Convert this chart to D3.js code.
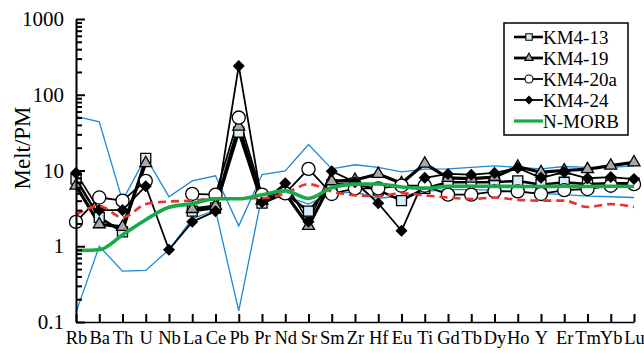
<!DOCTYPE html>
<html><head><meta charset="utf-8">
<script src="https://cdn.jsdelivr.net/npm/d3@7"></script>
<style>body{margin:0;background:#fff}svg{display:block}</style>
</head><body>
<svg id="c" width="644" height="353"></svg>
<script>
const elements = ["Rb","Ba","Th","U","Nb","La","Ce","Pb","Pr","Nd","Sr","Sm","Zr","Hf","Eu","Ti","Gd","Tb","Dy","Ho","Y","Er","Tm","Yb","Lu"];
const km4_13  = [7.7,2.4,1.55,14.5,null,2.9,3.2,32,3.7,5.0,2.9,6.5,6.8,5.5,4.0,5.8,7.0,7.0,7.0,7.3,6.5,7.0,6.6,6.8,6.8];
const km4_19  = [6.3,1.95,1.8,12.5,null,3.1,3.4,38,4.0,5.0,1.85,7.2,7.5,9.0,6.8,12.3,8.0,7.8,8.2,11.2,9.5,10,10.4,11.6,12.8];
const km4_20a = [2.1,4.4,4.0,7.3,null,4.9,4.8,50,4.8,5.0,10.5,4.9,5.8,5.8,6.3,6.3,4.8,4.8,5.3,5.3,4.9,5.5,5.7,6.3,6.6];
const km4_24  = [9.3,3.0,3.0,6.2,0.9,2.1,2.9,240,3.8,6.8,2.1,9.8,7.0,3.7,1.6,8.0,9.0,8.8,9.3,10.8,8.0,9.5,7.9,8.2,7.7];
const nmorb   = [0.88,0.90,1.41,2.24,3.27,3.64,4.23,4.23,4.78,5.39,4.27,5.92,6.6,6.63,6.07,5.85,6.17,6.2,6.17,6.16,6.15,6.19,6.16,6.19,6.15];
const redDash = [2.6,3.4,2.4,3.6,3.9,4.0,4.3,4.3,4.3,5.0,6.6,5.3,4.7,4.6,5.0,4.7,4.4,4.2,4.4,4.1,4.0,4.0,3.3,3.6,3.3];
const blueUpper = [52,44,4.0,15,4.5,7.3,8.5,1.86,8.8,9.9,22,10.5,11.9,11,9.6,10.4,10.5,11,11.5,11,10.5,11.3,11,11,11.5];
const blueLower = [0.134,1.0,0.47,0.48,0.9,2.3,3.0,0.14,4.7,4.6,3.6,5.0,5.2,4.3,4.6,5.3,5.6,5.6,5.5,5.2,5.0,4.8,4.6,4.5,4.4];
const yMajor = [0.1,1,10,100,1000];
const yMajorLabels = ["0.1","1","10","100","1000"];

const svg = d3.select("#c");
const font = "'Liberation Serif','Times New Roman',serif";
const x = d3.scalePoint().domain(elements).range([76,634]);
const y = d3.scaleLog().domain([0.1,1000]).range([322,19]);

const lineGen = (curve) => d3.line()
  .defined(d => d.v != null)
  .x(d => x(d.e)).y(d => y(d.v)).curve(curve || d3.curveLinear);
const pts = arr => elements.map((e,i)=>({e, v: arr[i]}));

// blue envelope
[blueUpper, blueLower].forEach(arr => {
  svg.append("path").attr("d", lineGen()(pts(arr)))
    .attr("fill","none").attr("stroke","#1b8ad6").attr("stroke-width",1.3);
});

const series = [
  {name:"KM4-13", data:km4_13, sym:d3.symbolSquare, size:100, fill:"#d6edf7", lw:2.6, rot:0, lsize:42},
  {name:"KM4-19", data:km4_19, sym:d3.symbolTriangle, size:62, fill:"#a9a9a9", lw:3.2, rot:0, lsize:30},
  {name:"KM4-20a", data:km4_20a, sym:d3.symbolCircle, size:135, fill:"#ffffff", lw:1.8, rot:0, lsize:50},
  {name:"KM4-24", data:km4_24, sym:d3.symbolSquare, size:52, fill:"#000000", lw:1.8, rot:45, lsize:26}
];

series.forEach(s => {
  svg.append("path").attr("d", lineGen()(pts(s.data)))
    .attr("fill","none").attr("stroke","#000").attr("stroke-width",s.lw).attr("stroke-linejoin","round");
});
series.forEach(s => {
  svg.append("g").selectAll("path").data(pts(s.data).filter(d=>d.v!=null)).join("path")
    .attr("d", d3.symbol().type(s.sym).size(s.size))
    .attr("transform", d => `translate(${x(d.e)},${y(d.v)}) rotate(${s.rot})`)
    .attr("fill", s.fill).attr("stroke","#000").attr("stroke-width",1.3);
});

// red dashed
svg.append("path").attr("d", lineGen(d3.curveMonotoneX)(pts(redDash)))
  .attr("fill","none").attr("stroke","#e8322b").attr("stroke-width",2.6).attr("stroke-dasharray","8,5");
// N-MORB
svg.append("path").attr("d", lineGen(d3.curveMonotoneX)(pts(nmorb)))
  .attr("fill","none").attr("stroke","#19a84a").attr("stroke-width",3.6);

// axes
const minor = [];
for (let p=-1; p<3; p++) for (let k=2;k<=9;k++) minor.push(k*Math.pow(10,p));
const gy = svg.append("g").attr("transform","translate(76,0)");
gy.call(d3.axisLeft(y).tickValues(minor).tickSize(-6).tickSizeOuter(0).tickFormat(""));
const gy2 = svg.append("g").attr("transform","translate(76,0)");
gy2.call(d3.axisLeft(y).tickValues(yMajor).tickSize(-9).tickSizeOuter(0).tickPadding(12)
  .tickFormat((d,i)=>yMajorLabels[i]));
[gy,gy2].forEach(g=>{
  g.selectAll("line").attr("stroke","#000").attr("stroke-width",2);
  g.select(".domain").attr("stroke","#000").attr("stroke-width",1.6);
});
gy2.selectAll("text").attr("font-family",font).attr("font-size",21).attr("fill","#000");

const gx = svg.append("g").attr("transform","translate(0,322)");
gx.call(d3.axisBottom(x).tickSize(-8).tickSizeOuter(0).tickPadding(9));
gx.selectAll("line").attr("stroke","#000").attr("stroke-width",2);
gx.select(".domain").attr("stroke","#000").attr("stroke-width",1.6);
gx.selectAll("text").attr("font-family",font).attr("font-size",18.5).attr("fill","#000");

svg.append("text").attr("transform","translate(30,148) rotate(-90)")
  .attr("text-anchor","middle").attr("font-family",font).attr("font-size",23).text("Melt/PM");

// legend
const lg = svg.append("g");
lg.append("rect").attr("x",504).attr("y",23).attr("width",124).attr("height",112)
  .attr("fill","#fff").attr("stroke","#000").attr("stroke-width",1.5);
const legendItems = series.map(s=>({...s})).concat([{name:"N-MORB", green:true}]);
legendItems.forEach((s,i)=>{
  const cy = 37 + i*21;
  if (s.green) {
    lg.append("line").attr("x1",514).attr("x2",543).attr("y1",cy).attr("y2",cy)
      .attr("stroke","#19a84a").attr("stroke-width",3.2);
  } else {
    lg.append("line").attr("x1",514).attr("x2",543).attr("y1",cy).attr("y2",cy)
      .attr("stroke","#000").attr("stroke-width",Math.min(s.lw,2.8));
    lg.append("path").attr("d", d3.symbol().type(s.sym).size(s.lsize))
      .attr("transform",`translate(529,${cy}) rotate(${s.rot})`)
      .attr("fill",s.fill).attr("stroke","#000").attr("stroke-width",1.1);
  }
  lg.append("text").attr("x",543).attr("y",cy+6.5).attr("font-family",font)
    .attr("font-size",19).text(s.name);
});
</script>
</body></html>
